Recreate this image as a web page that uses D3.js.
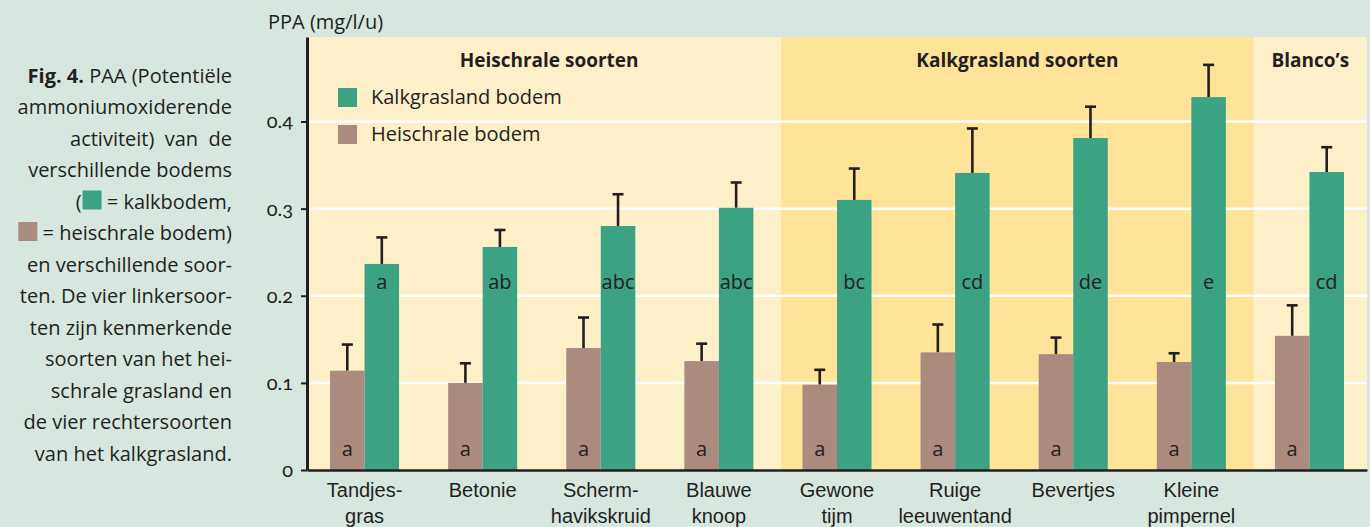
<!DOCTYPE html>
<html><head><meta charset="utf-8">
<script src="https://cdn.jsdelivr.net/npm/d3@7"></script>
<style>
html,body{margin:0;padding:0;background:#d7e6df;}
svg{display:block;font-family:"Open Sans",sans-serif;}
</style></head><body>
<svg id="chart" width="1370" height="527"></svg>
<script>
// ---------- data ----------
const categories = ["Tandjesgras","Betonie","Schermhavikskruid","Blauwe knoop","Gewone tijm","Ruige leeuwentand","Bevertjes","Kleine pimpernel","Blanco"];
const categoryLabels = [["Tandjes-","gras"],["Betonie"],["Scherm-","havikskruid"],["Blauwe","knoop"],["Gewone","tijm"],["Ruige","leeuwentand"],["Bevertjes"],["Kleine","pimpernel"],[]];
const seriesNames = ["Kalkgrasland bodem","Heischrale bodem"];
const heischraleValues = [0.114,0.100,0.140,0.125,0.098,0.135,0.133,0.124,0.154];
const heischraleErrors = [0.030,0.0225,0.035,0.020,0.017,0.032,0.019,0.010,0.035];
const kalkValues = [0.2365,0.256,0.280,0.301,0.310,0.341,0.381,0.428,0.342];
const kalkErrors = [0.0305,0.0195,0.0365,0.029,0.036,0.051,0.036,0.037,0.0285];
const heischraleLetters = ["a","a","a","a","a","a","a","a","a"];
const kalkLetters = ["a","ab","abc","abc","bc","cd","de","e","cd"];
const groupNames = ["Heischrale soorten","Kalkgrasland soorten","Blanco\u2019s"];
const groupFirst = ["Tandjesgras","Gewone tijm","Blanco"];
const yTicks = [0,0.1,0.2,0.3,0.4];
const yTickLabels = ["0","0.1","0.2","0.3","0.4"];
const captionLines = [
  ["Fig. 4.", " PAA (Potentiële"],
  ["","ammoniumoxiderende"],
  ["","activiteit)  van  de"],
  ["","verschillende bodems"],
  ["","(SWATCH0 = kalkbodem,"],
  ["","SWATCH1 = heischrale bodem)"],
  ["","en verschillende soor-"],
  ["","ten. De vier linkersoor-"],
  ["","ten zijn kenmerkende"],
  ["","soorten van het hei-"],
  ["","schrale grasland en"],
  ["","de vier rechtersoorten"],
  ["","van het kalkgrasland."]
];

// ---------- style ----------
const C = {bg:"#d7e6df", cream:"#fdefc8", gold:"#fee398", green:"#3ba283", brown:"#ab8b80", ink:"#231f20"};
const panelColors = [C.cream, C.gold, C.cream];
const FS = 20;

const svg = d3.select("#chart");
svg.append("rect").attr("width",1370).attr("height",527).attr("fill",C.bg);

const x = d3.scaleBand().domain(categories).range([307,1367]).paddingInner(0.4155).paddingOuter(0.195);
const xs = d3.scaleBand().domain(["hei","kalk"]).range([0,x.bandwidth()]);
const y = d3.scaleLinear().domain([0,0.497]).range([470,37]);

// panels
const [r0,r1] = x.range();
const starts = groupFirst.map((c,i)=> i===0 ? r0 : x(c) - 0.18*x.step());
groupNames.forEach((g,i)=>{
  const a = starts[i], b = i<groupNames.length-1 ? starts[i+1] : r1;
  svg.append("rect").attr("x",a).attr("y",y.range()[1]).attr("width",b-a).attr("height",y(0)-y.range()[1]).attr("fill",panelColors[i]);
  svg.append("text").attr("x",(a+b)/2 + (i===0?5:0)).attr("y",67).attr("text-anchor","middle")
    .attr("font-size",19).attr("font-weight",700).attr("fill",C.ink).text(g);
});

// gridlines
svg.append("g").selectAll("line").data(yTicks.filter(d=>d>0)).join("line")
  .attr("x1",r0).attr("x2",r1).attr("y1",d=>y(d)).attr("y2",d=>y(d))
  .attr("stroke","#fff").attr("stroke-width",2.5);

// bars
const data = categories.map((c,i)=>({c, hv:heischraleValues[i], he:heischraleErrors[i], kv:kalkValues[i], ke:kalkErrors[i], hl:heischraleLetters[i], kl:kalkLetters[i]}));
const gBars = svg.append("g");
data.forEach(d=>{
  const g = gBars.append("g").attr("transform",`translate(${x(d.c)},0)`);
  [["hei",d.hv,d.he,C.brown,d.hl,0.016],["kalk",d.kv,d.ke,C.green,d.kl,0.2075]].forEach(([k,v,e,col,lab,ly])=>{
    const bx = xs(k), bw = xs.bandwidth(), cx = bx + bw/2;
    g.append("line").attr("x1",cx).attr("x2",cx).attr("y1",y(v)).attr("y2",y(v+e)).attr("stroke",C.ink).attr("stroke-width",2.6);
    g.append("line").attr("x1",cx-5.5).attr("x2",cx+5.5).attr("y1",y(v+e)).attr("y2",y(v+e)).attr("stroke",C.ink).attr("stroke-width",2.6);
    g.append("rect").attr("x",bx).attr("y",y(v)).attr("width",bw).attr("height",y(0)-y(v)).attr("fill",col);
    g.append("text").attr("x",cx).attr("y",y(ly)).attr("text-anchor","middle").attr("font-size",FS).attr("fill",C.ink).text(lab);
  });
});

// y axis
const ya = svg.append("g").attr("transform",`translate(${r0},0)`)
  .call(d3.axisLeft(y).tickValues(yTicks).tickFormat((d,i)=>yTickLabels[i]).tickSize(6).tickSizeOuter(0).tickPadding(8));
ya.select(".domain").attr("stroke",C.ink).attr("stroke-width",3);
ya.selectAll(".tick line").attr("stroke",C.ink).attr("stroke-width",2);
ya.selectAll(".tick text").attr("font-family","Lato, 'Open Sans', sans-serif").style("font-variant-numeric","oldstyle-nums")
  .attr("font-size",FS).attr("fill",C.ink);

// x axis
const xa = svg.append("g").attr("transform",`translate(0,${y(0)})`)
  .call(d3.axisBottom(x).tickSize(0).tickSizeOuter(0).tickFormat(""));
xa.select(".domain").attr("stroke",C.ink).attr("stroke-width",2.5);
xa.selectAll(".tick").each(function(d,i){
  const t = d3.select(this).select("text").attr("font-size",FS).attr("fill",C.ink).attr("y",0).attr("dy",null);
  categoryLabels[i].forEach((ln,j)=>{
    t.append("tspan").attr("x",0).attr("y",27+j*25.5).text(ln);
  });
});

// y title
svg.append("text").attr("x",268).attr("y",29).attr("font-size",FS).attr("fill",C.ink).text("PPA (mg/l/u)");

// legend
[[C.green,seriesNames[0]],[C.brown,seriesNames[1]]].forEach(([col,name],i)=>{
  svg.append("rect").attr("x",338).attr("y",88+i*37).attr("width",19).attr("height",19).attr("fill",col);
  svg.append("text").attr("x",371).attr("y",104+i*36.5).attr("font-size",FS).attr("fill",C.ink).text(name);
});

// caption
const capX = 232;
captionLines.forEach(([b,r],i)=>{
  const by = 82.5 + i*31.5;
  const m = r.match(/^(.*)SWATCH(\d)(.*)$/);
  if(m){
    const t = svg.append("text").attr("x",capX).attr("y",by).attr("text-anchor","end").attr("font-size",FS).attr("fill",C.ink)
      .attr("xml:space","preserve").text(m[3].replace(/^ /,"\u00a0"));
    const w = t.node().getComputedTextLength();
    const sx = capX - w - 19;
    svg.append("rect").attr("x",sx).attr("y",by-18).attr("width",19).attr("height",19).attr("fill", m[2]==="0"?C.green:C.brown);
    if(m[1]) svg.append("text").attr("x",sx-1).attr("y",by).attr("text-anchor","end").attr("font-size",FS).attr("fill",C.ink).text(m[1]);
  } else {
    const t = svg.append("text").attr("x",capX).attr("y",by).attr("text-anchor","end").attr("font-size",FS).attr("fill",C.ink)
      .attr("xml:space","preserve");
    if(b) t.append("tspan").attr("font-weight",700).text(b);
    t.append("tspan").text(r);
  }
});
</script>
</body></html>
